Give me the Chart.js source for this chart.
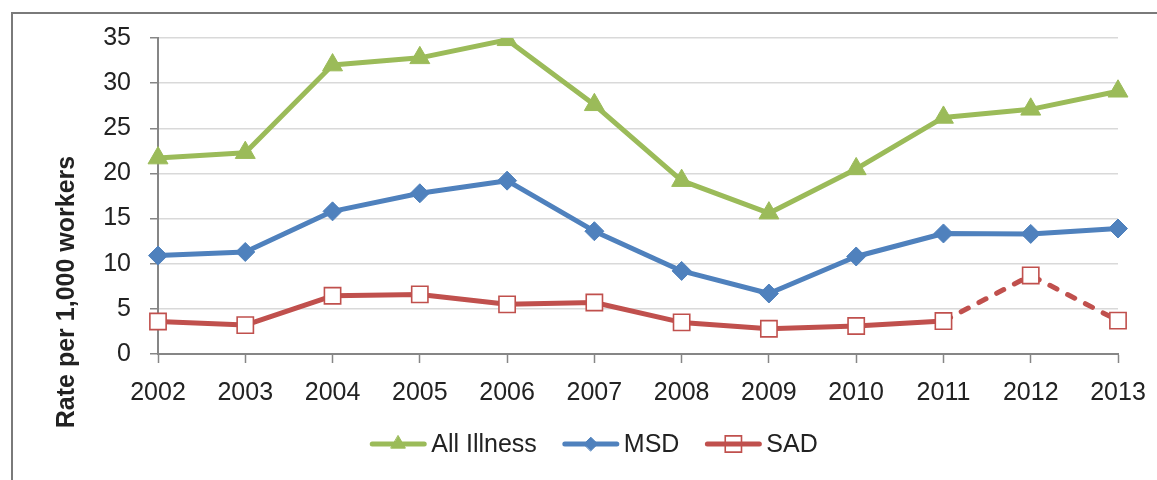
<!DOCTYPE html>
<html>
<head>
<meta charset="utf-8">
<script src="https://cdn.jsdelivr.net/npm/chart.js@4"></script>
<style>
  html, body { margin: 0; padding: 0; background: #fff; }
  canvas { display: block; }
</style>
</head>
<body>
<canvas id="chart" width="1157" height="480"></canvas>
<script>
// Rates per 1,000 workers by year
const years = ['2002', '2003', '2004', '2005', '2006', '2007', '2008', '2009', '2010', '2011', '2012', '2013'];
const allIllness = [21.7, 22.3, 32.0, 32.8, 34.8, 27.6, 19.2, 15.6, 20.5, 26.2, 27.1, 29.1];
const msd = [10.9, 11.3, 15.8, 17.8, 19.2, 13.6, 9.2, 6.7, 10.8, 13.35, 13.3, 13.9];
const sad = [3.6, 3.2, 6.45, 6.6, 5.5, 5.7, 3.5, 2.8, 3.1, 3.65, 8.7, 3.7];
const seriesNames = ['All Illness', 'MSD', 'SAD'];
const yMin = 0, yMax = 35, yStep = 5;
const yTitle = 'Rate per 1,000 workers';
// SAD values from this index onward are joined with a dashed line
const sadDashFrom = 9;

const FONT = '"Liberation Sans", Arial, sans-serif';
const TEXT = '#222222';
const AXIS = '#868686';
const GRID = '#d9d9d9';

const GREEN = '#9bbb59', BLUE = '#4f81bd', RED = '#c0504d';

const decorations = {
  id: 'decorations',
  beforeDraw(chart) {
    const ctx = chart.ctx;
    ctx.save();
    ctx.fillStyle = '#ffffff';
    ctx.fillRect(0, 0, chart.width, chart.height);
    // outer frame (left and top edges)
    ctx.strokeStyle = '#7a7a7a';
    ctx.lineWidth = 2;
    ctx.beginPath();
    ctx.moveTo(12, chart.height + 2);
    ctx.lineTo(12, 13);
    ctx.lineTo(chart.width + 2, 13);
    ctx.stroke();
    ctx.restore();
  },
  afterDraw(chart) {
    const ctx = chart.ctx;
    ctx.save();
    // vertical axis title
    ctx.translate(67, 292);
    ctx.rotate(-Math.PI / 2);
    ctx.font = 'bold 25px ' + FONT;
    ctx.fillStyle = TEXT;
    ctx.textAlign = 'center';
    ctx.textBaseline = 'middle';
    ctx.fillText(yTitle, 0, 0);
    ctx.restore();

    // legend: line sample with marker, then label
    ctx.save();
    ctx.font = '25px ' + FONT;
    const lineLen = 56, textGap = 5, itemGap = 26;
    const items = chart.data.datasets.map(ds => ({ ds, w: ctx.measureText(ds.label).width }));
    const total = items.reduce((s, it) => s + lineLen + textGap + it.w, 0) + itemGap * (items.length - 1);
    let x = 594 - total / 2;
    const y = 444;
    items.forEach(({ ds, w }) => {
      const cx = x + lineLen / 2;
      const marker = {
        pointStyle: ds.pointStyle, rotation: 0,
        radius: ds.pointStyle === 'rect' ? ds.pointRadius : ds.pointRadius * 0.72,
        borderWidth: ds.pointBorderWidth
      };
      const lineOver = ds.pointStyle === 'rect';
      const drawMarker = () => {
        ctx.fillStyle = ds.pointBackgroundColor;
        ctx.strokeStyle = ds.pointBorderColor;
        ctx.lineWidth = ds.pointBorderWidth;
        Chart.helpers.drawPoint(ctx, marker, cx, y);
      };
      if (lineOver) drawMarker();
      ctx.strokeStyle = ds.borderColor;
      ctx.lineWidth = 5;
      ctx.lineCap = 'round';
      ctx.beginPath();
      ctx.moveTo(x + 2, y);
      ctx.lineTo(x + lineLen - 2, y);
      ctx.stroke();
      if (!lineOver) drawMarker();
      ctx.fillStyle = TEXT;
      ctx.textAlign = 'left';
      ctx.textBaseline = 'middle';
      ctx.fillText(ds.label, x + lineLen + textGap, y + 1);
      x += lineLen + textGap + w + itemGap;
    });
    ctx.restore();
  }
};

const common = {
  borderWidth: 5,
  tension: 0,
  borderJoinStyle: 'round',
  borderCapStyle: 'round',
  pointHoverRadius: 0
};

new Chart(document.getElementById('chart'), {
  type: 'line',
  data: {
    labels: years,
    datasets: [
      Object.assign({}, common, {
        label: seriesNames[0], data: allIllness,
        borderColor: GREEN, backgroundColor: GREEN,
        pointStyle: 'triangle', pointRadius: 11.5,
        pointBackgroundColor: GREEN, pointBorderColor: GREEN, pointBorderWidth: 1
      }),
      Object.assign({}, common, {
        label: seriesNames[1], data: msd,
        borderColor: BLUE, backgroundColor: BLUE,
        pointStyle: 'rectRot', pointRadius: 9.5,
        pointBackgroundColor: BLUE, pointBorderColor: BLUE, pointBorderWidth: 1
      }),
      Object.assign({}, common, {
        label: seriesNames[2], data: sad,
        borderColor: RED, backgroundColor: RED,
        pointStyle: 'rect', pointRadius: 11.5,
        pointBackgroundColor: '#ffffff', pointBorderColor: RED, pointBorderWidth: 1.6,
        segment: {
          borderDash: ctx => ctx.p0DataIndex >= sadDashFrom ? [8, 12] : undefined
        }
      })
    ]
  },
  options: {
    responsive: false,
    animation: false,
    events: [],
    layout: { padding: { left: 0, top: 38, right: 39, bottom: 0 } },
    plugins: {
      legend: { display: false },
      tooltip: { enabled: false },
      title: { display: false }
    },
    scales: {
      x: {
        offset: false,
        grid: {
          drawOnChartArea: false, drawTicks: true,
          tickLength: 9, tickColor: AXIS, tickWidth: 1.5
        },
        border: { display: true, color: AXIS, width: 2 },
        ticks: {
          color: TEXT, font: { family: FONT, size: 25 },
          padding: 15, maxRotation: 0, autoSkip: false
        },
        afterFit(scale) {
          scale.height = 126;
          scale.paddingLeft = 0;
          scale.paddingRight = 0;
        }
      },
      y: {
        min: yMin, max: yMax,
        grid: {
          color: ctx => ctx.tick && ctx.tick.value === 0 ? 'rgba(0,0,0,0)' : GRID,
          lineWidth: 1.5,
          drawTicks: true, tickLength: 8, tickColor: AXIS, tickWidth: 1.5
        },
        border: { display: true, color: AXIS, width: 2 },
        ticks: {
          stepSize: yStep, color: TEXT,
          font: { family: FONT, size: 25 }, padding: 19
        },
        afterFit(scale) {
          scale.width = 158;
          scale.paddingTop = 0;
          scale.paddingBottom = 0;
        }
      }
    }
  },
  plugins: [decorations]
});
</script>
</body>
</html>
